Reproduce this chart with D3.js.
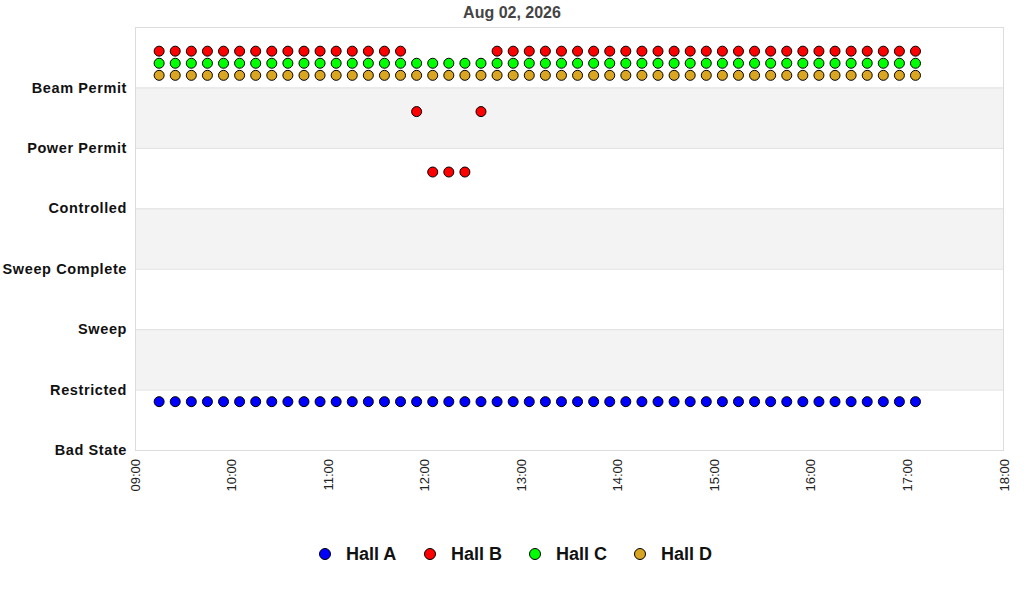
<!DOCTYPE html>
<html><head><meta charset="utf-8">
<script src="https://cdn.jsdelivr.net/npm/d3@7/dist/d3.min.js"></script>
<style>body{margin:0;background:#fff;} text{font-family:"Liberation Sans",Arial,sans-serif;}</style>
</head><body>
<svg id="chart" width="1024" height="600"></svg>
<script>
const title = "Aug 02, 2026";
const states = ["Bad State","Restricted","Sweep","Sweep Complete","Controlled","Power Permit","Beam Permit"];
const xTicks = ["09:00","10:00","11:00","12:00","13:00","14:00","15:00","16:00","17:00","18:00"];
const times = ["09:15","09:25","09:35","09:45","09:55","10:05","10:15","10:25","10:35","10:45","10:55","11:05",
  "11:15","11:25","11:35","11:45","11:55","12:05","12:15","12:25","12:35","12:45","12:55","13:05",
  "13:15","13:25","13:35","13:45","13:55","14:05","14:15","14:25","14:35","14:45","14:55","15:05",
  "15:15","15:25","15:35","15:45","15:55","16:05","16:15","16:25","16:35","16:45","16:55","17:05"];
const BP="Beam Permit", PP="Power Permit", CT="Controlled", BS="Bad State";
const hallA = [BS,BS,BS,BS,BS,BS,BS,BS,BS,BS,BS,BS,BS,BS,BS,BS,BS,BS,BS,BS,BS,BS,BS,BS,
  BS,BS,BS,BS,BS,BS,BS,BS,BS,BS,BS,BS,BS,BS,BS,BS,BS,BS,BS,BS,BS,BS,BS,BS];
const hallB = [BP,BP,BP,BP,BP,BP,BP,BP,BP,BP,BP,BP,BP,BP,BP,BP,PP,CT,CT,CT,PP,BP,BP,BP,
  BP,BP,BP,BP,BP,BP,BP,BP,BP,BP,BP,BP,BP,BP,BP,BP,BP,BP,BP,BP,BP,BP,BP,BP];
const hallC = [BP,BP,BP,BP,BP,BP,BP,BP,BP,BP,BP,BP,BP,BP,BP,BP,BP,BP,BP,BP,BP,BP,BP,BP,
  BP,BP,BP,BP,BP,BP,BP,BP,BP,BP,BP,BP,BP,BP,BP,BP,BP,BP,BP,BP,BP,BP,BP,BP];
const hallD = [BP,BP,BP,BP,BP,BP,BP,BP,BP,BP,BP,BP,BP,BP,BP,BP,BP,BP,BP,BP,BP,BP,BP,BP,
  BP,BP,BP,BP,BP,BP,BP,BP,BP,BP,BP,BP,BP,BP,BP,BP,BP,BP,BP,BP,BP,BP,BP,BP];
const seriesNames = ["Hall A","Hall B","Hall C","Hall D"];
const seriesOffsets = [0.8,0.6,0.4,0.2];
const seriesColors = ["#0000ff","#ff0000","#00ff00","#daa520"];
const seriesData = [hallA,hallB,hallC,hallD];

const svg = d3.select("#chart");
const m = {l:135, r:1004, t:27, b:450};
const parse = d3.timeParse("%Y-%m-%d %H:%M");
const day = "2026-08-02 ";
const x = d3.scaleTime().domain([parse(day+xTicks[0]), parse(day+xTicks[xTicks.length-1])]).range([m.l,m.r]);
const y = d3.scaleLinear().domain([0, states.length]).range([m.b, m.t]);

// bands
const bandIdx = [1,3,5];
svg.selectAll("rect.band").data(bandIdx).enter().append("rect")
  .attr("x", m.l).attr("width", m.r-m.l)
  .attr("y", d=>y(d+1)).attr("height", d=>y(d)-y(d+1))
  .attr("fill","#f3f3f3");
// gridlines
svg.selectAll("line.grid").data(d3.range(1,states.length)).enter().append("line")
  .attr("x1",m.l).attr("x2",m.r).attr("y1",d=>y(d)+0.5).attr("y2",d=>y(d)+0.5)
  .attr("stroke","#e0e0e0");
// border
svg.append("rect").attr("x",m.l+0.5).attr("y",m.t+0.5).attr("width",m.r-m.l-1).attr("height",m.b-m.t)
  .attr("fill","none").attr("stroke","#dcdcdc");

// y labels
svg.selectAll("text.ylab").data(states).enter().append("text")
  .attr("x",127).attr("y",(d,i)=>y(i)).attr("dy","0.35em").attr("text-anchor","end")
  .attr("font-size",14.5).attr("font-weight","bold").attr("letter-spacing","0.6px")
  .attr("fill","#111").text(d=>d);

// x labels
svg.selectAll("text.xlab").data(xTicks).enter().append("text")
  .attr("transform",d=>`translate(${x(parse(day+d))},459) rotate(-90)`)
  .attr("dy","0.35em").attr("text-anchor","end")
  .attr("font-size",13).attr("fill","#222").text(d=>d);

// title
svg.append("text").attr("x",512).attr("y",18).attr("text-anchor","middle")
  .attr("font-size",16).attr("font-weight","bold").attr("fill","#444").text(title);

// points
seriesData.forEach((arr,si)=>{
  svg.append("g").selectAll("circle").data(arr).enter().append("circle")
    .attr("cx",(d,i)=>x(parse(day+times[i])))
    .attr("cy",d=>y(states.indexOf(d)+seriesOffsets[si]))
    .attr("r",5).attr("fill",seriesColors[si]).attr("stroke","#000").attr("stroke-width",1);
});

// legend
const lx = [325,430,535,640];
const lg = svg.append("g");
seriesNames.forEach((n,i)=>{
  lg.append("circle").attr("cx",lx[i]).attr("cy",554).attr("r",5.5)
    .attr("fill",seriesColors[i]).attr("stroke","#000").attr("stroke-width",1);
  lg.append("text").attr("x",lx[i]+21).attr("y",554).attr("dy","0.35em")
    .attr("font-size",18).attr("font-weight","bold").attr("fill","#111").text(n);
});
</script>
</body></html>
